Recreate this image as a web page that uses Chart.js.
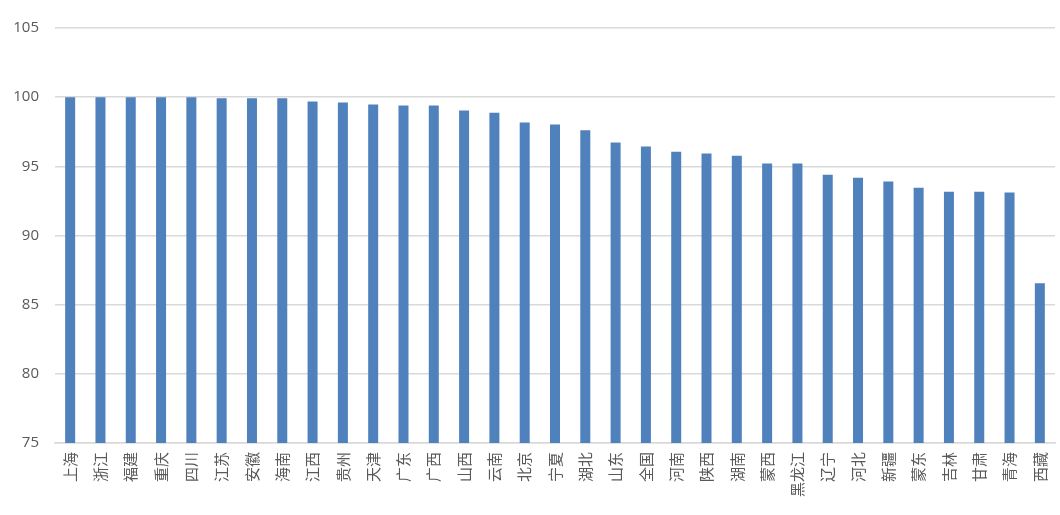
<!DOCTYPE html>
<html>
<head>
<meta charset="utf-8">
<script src="https://cdn.jsdelivr.net/npm/chart.js@4/dist/chart.umd.min.js"></script>
<style>
html,body{margin:0;padding:0;background:#fff;}
#wrap{position:relative;width:1060px;height:515px;}
</style>
</head>
<body>
<div id="wrap"><canvas id="c" width="1060" height="515"></canvas></div>
<script>
const categories = ["上海","浙江","福建","重庆","四川","江苏","安徽","海南","江西","贵州","天津","广东","广西","山西","云南","北京","宁夏","湖北","山东","全国","河南","陕西","湖南","蒙西","黑龙江","辽宁","河北","新疆","蒙东","吉林","甘肃","青海","西藏"];
const values = [100,100,100,100,100,99.92,99.92,99.92,99.69,99.62,99.47,99.4,99.4,99.04,98.88,98.17,98.03,97.6,96.73,96.44,96.06,95.92,95.77,95.2,95.2,94.4,94.18,93.9,93.46,93.17,93.17,93.1,86.55];
const yMin = 75, yMax = 105, yStep = 5;

new Chart(document.getElementById('c'), {
  type: 'bar',
  data: {
    labels: categories,
    datasets: [{
      data: values,
      backgroundColor: '#4F81BD',
      borderWidth: 0,
      categoryPercentage: 1,
      barPercentage: 0.33
    }]
  },
  options: {
    responsive: false,
    animation: false,
    layout: { padding: { left: 0, right: 5, top: 28, bottom: 0 } },
    plugins: { legend: { display: false }, tooltip: { enabled: false } },
    scales: {
      x: {
        grid: { display: false, drawTicks: false },
        border: { display: true, color: '#D9D9D9', width: 1.5 },
        ticks: {
          color: '#595959',
          font: { family: '"Noto Sans CJK SC"', size: 15 },
          minRotation: 90, maxRotation: 90,
          autoSkip: false,
          padding: 9
        },
        afterFit: s => { s.height = 72; s.paddingRight = 0; s.paddingLeft = 0; }
      },
      y: {
        min: yMin, max: yMax,
        ticks: {
          stepSize: yStep,
          color: '#595959',
          font: { family: '"Open Sans"', size: 15 },
          padding: 16
        },
        grid: { color: '#D9D9D9', lineWidth: 1.5, drawTicks: false },
        border: { display: false },
        afterFit: s => { s.width = 55; }
      }
    }
  }
});
</script>
</body>
</html>
